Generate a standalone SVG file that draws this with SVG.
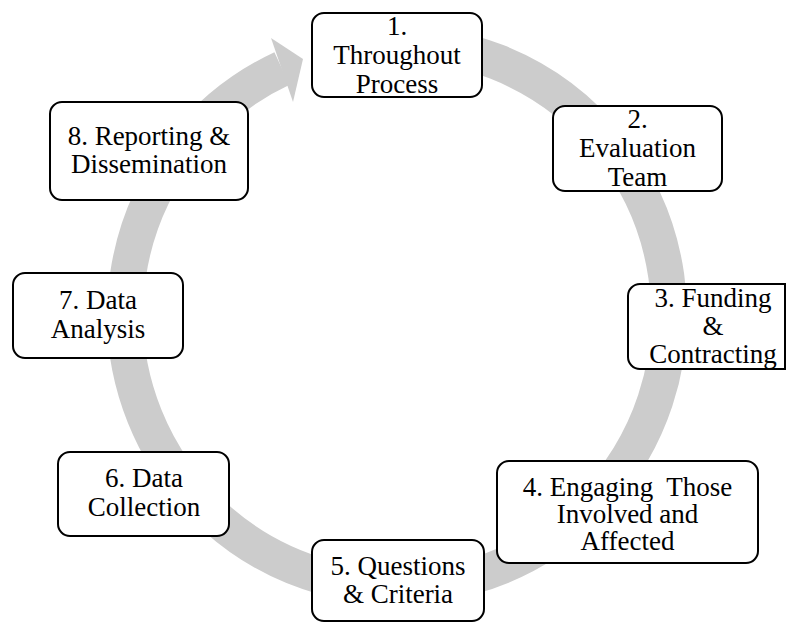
<svg xmlns="http://www.w3.org/2000/svg" width="787" height="622" viewBox="0 0 787 622">
  <style>
    .box { fill: #ffffff; stroke: #000000; stroke-width: 2; }
    .lbl { font-family: "Liberation Serif", "Times New Roman", serif; font-size: 27px; fill: #000000; text-anchor: middle; }
    .band { fill: none; stroke: #cccccc; stroke-width: 36; }
    .head { fill: #cccccc; }
  </style>
  <g id="connectors">
    <path class="band" d="M 373.3 44 A 272 272 0 1 1 282 68.5"/>
    <polygon class="head" points="271,38 303,59 293,102"/>
  </g>
  <g id="node1">
    <rect class="box" x="312" y="13" width="170" height="84" rx="12"/>
    <text class="lbl" x="397" y="35">1.</text>
    <text class="lbl" x="397" y="64">Throughout</text>
    <text class="lbl" x="397" y="93">Process</text>
  </g>
  <g id="node2">
    <rect class="box" x="553" y="106" width="169" height="85" rx="12"/>
    <text class="lbl" x="637.5" y="128">2.</text>
    <text class="lbl" x="637.5" y="157">Evaluation</text>
    <text class="lbl" x="637.5" y="186">Team</text>
  </g>
  <g id="node3">
    <path class="box" d="M 786 284 L 640 284 A 12 12 0 0 0 628 296 L 628 357 A 12 12 0 0 0 640 369 L 786 369"/>
    <line x1="785" y1="284" x2="785" y2="369" stroke="#000000" stroke-width="2"/>
    <text class="lbl" x="713" y="307">3. Funding</text>
    <text class="lbl" x="713" y="335">&amp;</text>
    <text class="lbl" x="713" y="363">Contracting</text>
  </g>
  <g id="node4">
    <rect class="box" x="497" y="461" width="261" height="102" rx="12"/>
    <text class="lbl" x="627.5" y="496">4. Engaging&#160; Those</text>
    <text class="lbl" x="627.5" y="523">Involved and</text>
    <text class="lbl" x="627.5" y="550">Affected</text>
  </g>
  <g id="node5">
    <rect class="box" x="312" y="540" width="172" height="81" rx="12"/>
    <text class="lbl" x="398" y="575">5. Questions</text>
    <text class="lbl" x="398" y="603">&amp; Criteria</text>
  </g>
  <g id="node6">
    <rect class="box" x="58" y="452" width="171" height="84" rx="12"/>
    <text class="lbl" x="144" y="487">6. Data</text>
    <text class="lbl" x="144" y="516">Collection</text>
  </g>
  <g id="node7">
    <rect class="box" x="13" y="273" width="170" height="85" rx="12"/>
    <text class="lbl" x="98" y="309">7. Data</text>
    <text class="lbl" x="98" y="338">Analysis</text>
  </g>
  <g id="node8">
    <rect class="box" x="50" y="102" width="198" height="98" rx="12"/>
    <text class="lbl" x="149" y="145">8. Reporting &amp;</text>
    <text class="lbl" x="149" y="173">Dissemination</text>
  </g>
</svg>
